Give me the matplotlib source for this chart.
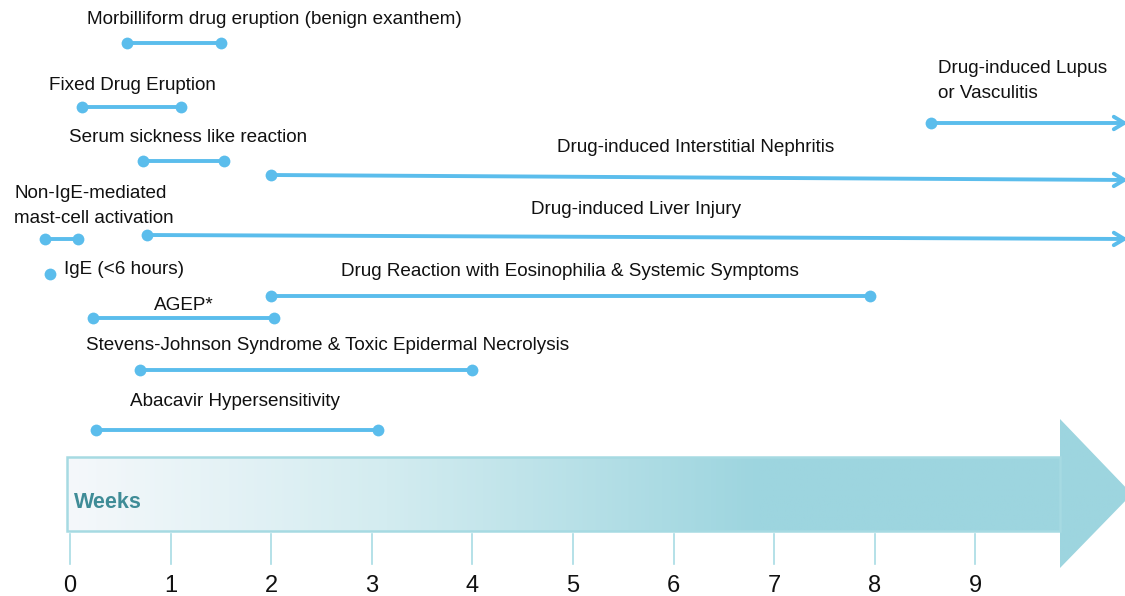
import numpy as np
import matplotlib.pyplot as plt
from matplotlib.patches import Polygon
from matplotlib.colors import LinearSegmentedColormap

plt.rcParams['font.family'] = ['Liberation Sans', 'DejaVu Sans']

# Onset windows, in weeks after drug start (None = continues past the axis)
reactions = [
    "Morbilliform drug eruption (benign exanthem)",
    "Fixed Drug Eruption",
    "Drug-induced Lupus\nor Vasculitis",
    "Serum sickness like reaction",
    "Drug-induced Interstitial Nephritis",
    "Non-IgE-mediated\nmast-cell activation",
    "Drug-induced Liver Injury",
    "IgE (<6 hours)",
    "Drug Reaction with Eosinophilia & Systemic Symptoms",
    "AGEP*",
    "Stevens-Johnson Syndrome & Toxic Epidermal Necrolysis",
    "Abacavir Hypersensitivity",
]
onset_start = [0.57, 0.12, 8.56, 0.73, 2.0, -0.25, 0.77, -0.2, 2.0, 0.23, 0.70, 0.26]
onset_end = [1.50, 1.10, None, 1.53, None, 0.08, None, -0.2, 7.95, 2.03, 4.00, 3.06]

week_ticks = list(range(10))

# layout: line rows (pixel rows, start/end) and label anchors
row_y0 = [43, 107, 123, 161, 175, 239, 235, 274, 296, 318, 370, 430]
row_y1 = [43, 107, 123, 161, 180, 239, 239, 274, 296, 318, 370, 430]
label_x = [87, 49, 938, 69, 557, 14, 531, 64, 341, 154, 86, 130]
label_y = [20, 85, 81, 138, 148, 206, 209, 270, 272, 305, 345, 402]

W, H = 1125, 596
X0, SCALE = 70, 100.6  # pixel of week 0, pixels per week


def px2w(px):
    return (px - X0) / SCALE


fig = plt.figure(figsize=(W / 100, H / 100), dpi=100)
ax = fig.add_axes([0, 0, 1, 1])
ax.set_xlim(px2w(0), px2w(W))
ax.set_ylim(H, 0)
ax.axis('off')

LINE = '#5bbdec'
TEAL = '#9dd5df'

# big gradient arrow
rx0, rx1, ry0, ry1 = px2w(67), px2w(1060), 457, 531
head = [(rx0, ry0), (rx1, ry0), (rx1, 419), (px2w(1132), 494),
        (rx1, 568), (rx1, ry1), (rx0, ry1)]
arrow = Polygon(head, closed=True, facecolor='none', edgecolor='none')
ax.add_patch(arrow)
cmap = LinearSegmentedColormap.from_list(
    'g', [(0, '#f5f8fb'), (0.3, '#d3ecf0'), (0.65, TEAL), (1, TEAL)])
grad = np.linspace(0, 1, 512).reshape(1, -1)
im = ax.imshow(grad, cmap=cmap, aspect='auto',
               extent=(rx0, px2w(1132), 568, 419), zorder=1)
im.set_clip_path(arrow)
ax.add_patch(Polygon([(rx0, ry0), (rx1, ry0), (rx1, ry1), (rx0, ry1)],
                     closed=True, facecolor='none', edgecolor='#a6dae2',
                     lw=1.8, zorder=2))
ax.text(px2w(74), 502, "Weeks", fontsize=15.5, fontweight='bold',
        color='#3f8c97', va='center', ha='left', zorder=3)

# week ticks
for w in week_ticks:
    ax.plot([w, w], [534, 564], color='#a8dce4', lw=1.2)
    ax.text(w, 586, str(w), fontsize=17, ha='center', va='center', color='#111111')

# reaction onset lines
right = px2w(1128)
for i, name in enumerate(reactions):
    s, e = onset_start[i], onset_end[i]
    y0, y1 = row_y0[i], row_y1[i]
    if e is None:
        ax.annotate('', xy=(right, y1), xytext=(s, y0), annotation_clip=False,
                    arrowprops=dict(arrowstyle='->,head_length=0.75,head_width=0.45',
                                    color=LINE, lw=2.8, shrinkA=0, shrinkB=0))
        ax.plot([s], [y0], 'o', color=LINE, ms=8.5, mec='none')
    elif e == s:
        ax.plot([s], [y0], 'o', color=LINE, ms=8.5, mec='none')
    else:
        ax.plot([s, e], [y0, y1], '-', color=LINE, lw=2.8, solid_capstyle='round')
        ax.plot([s, e], [y0, y1], 'o', color=LINE, ms=8.5, mec='none')
    ax.text(px2w(label_x[i]), label_y[i], name, fontsize=13.6, ha='left',
            va='center', color='#111111', linespacing=1.6)

fig.savefig('out.png', dpi=100)
